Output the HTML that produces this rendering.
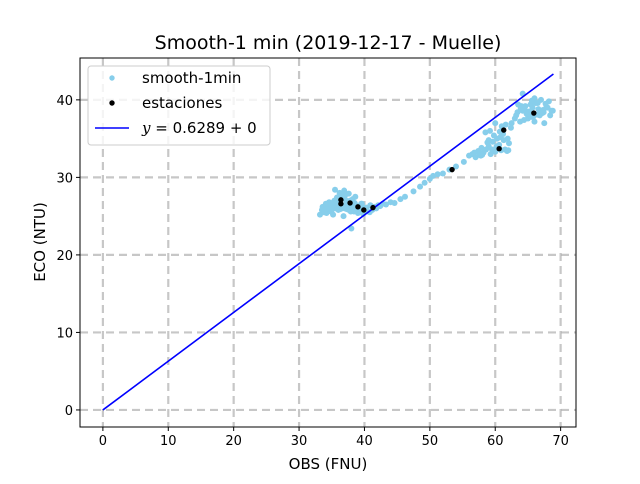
<!DOCTYPE html>
<html><head><meta charset="utf-8"><style>
body{margin:0;background:#fff;font-family:"DejaVu Sans","Liberation Sans",sans-serif}
</style></head><body>
<svg id="c" width="640" height="480" xmlns="http://www.w3.org/2000/svg" font-family="DejaVu Sans, Liberation Sans, sans-serif"></svg>
<script>
const xTicks=[0,10,20,30,40,50,60,70];
const yTicks=[0,10,20,30,40];
const smoothX=[33.2,33.5,33.8,34.0,34.2,34.5,34.7,35.0,35.2,35.4,35.6,35.8,36.0,36.2,36.4,36.6,36.8,37.0,37.2,37.4,37.6,37.8,38.0,38.2,38.4,38.6,38.8,39.0,39.2,39.4,39.6,39.8,40.0,40.3,40.6,40.9,41.2,41.5,41.8,42.1,42.4,42.8,43.3,44.0,44.6,45.5,46.2,47.5,48.5,49.2,50.0,50.5,51.2,52.0,53.0,54.0,55.2,56.0,56.5,57.0,57.4,57.8,58.2,58.6,59.0,59.3,59.6,60.0,60.3,60.6,60.9,61.2,61.5,61.8,62.1,62.4,58.5,59.2,60.0,60.8,61.6,62.0,57.6,59.0,60.2,61.0,62.5,63.0,63.4,63.8,64.2,64.6,65.0,65.4,65.8,66.2,66.6,67.0,67.4,67.8,68.2,68.6,64.0,65.0,66.0,67.0,68.0,63.5,64.5,65.5,66.5,67.5,64.2,66.8,36.5,35.5,37.0,34.6,38.6,36.0,39.5,35.0,37.8,40.8,36.8,34.0,38.0,
33.6,34.3,34.9,35.3,35.9,36.3,37.3,37.9,38.5,39.1,39.7,40.2,34.1,35.1,36.1,37.1,38.1,39.0,33.9,35.7,36.9,37.6,
56.8,57.9,58.8,59.5,60.5,61.3,61.9,58.0,59.8,60.7,
63.2,63.9,64.8,65.2,65.7,66.4,67.2,67.7,68.4,64.4,65.6,66.0,67.3,68.8];
const smoothY=[25.2,25.8,25.5,26.0,25.4,26.3,25.7,26.5,25.2,27.0,26.0,27.4,26.8,28.0,27.2,26.4,27.8,26.0,27.0,26.6,25.8,26.9,26.2,27.2,25.6,26.5,26.0,25.4,26.3,25.7,26.6,25.3,25.9,26.1,25.6,26.4,25.8,26.2,26.0,26.4,26.3,26.6,26.5,26.8,26.7,27.2,27.5,28.2,28.8,29.3,29.8,30.2,30.4,30.5,31.0,31.4,32.0,32.8,33.0,32.6,33.4,32.8,33.2,33.6,34.0,33.0,34.6,33.3,35.0,34.2,33.5,35.6,33.6,33.4,34.4,36.4,35.8,36.0,37.0,35.2,36.8,33.5,32.9,34.8,34.0,36.6,37.0,37.6,38.4,37.2,38.6,39.2,38.0,39.4,37.8,39.6,38.8,40.0,38.4,39.0,39.8,38.6,39.2,37.6,40.2,38.2,39.0,39.4,38.8,37.8,39.6,37.0,40.8,38.0,26.0,28.4,27.6,26.8,27.5,25.8,26.6,26.2,27.0,25.5,25.0,26.2,23.4,
26.2,25.9,25.6,26.7,26.1,25.9,25.9,25.6,26.7,26.0,26.0,25.8,26.6,25.9,27.5,26.3,26.4,25.9,25.6,26.3,28.3,27.9,
33.2,33.8,34.5,33.6,33.9,34.8,35.0,32.9,35.4,35.9,
38.0,38.9,38.2,38.5,39.0,38.1,38.3,39.5,38.0,37.4,39.9,37.2,38.7,38.6];
const stationX=[36.4,36.4,37.8,39.0,39.9,41.3,53.4,60.6,61.3,65.9];
const stationY=[27.1,26.6,26.7,26.2,25.8,26.1,31.0,33.7,36.1,38.3];
const slope=0.6289, lineX=[0,68.9];
const L=80,R=576,T=58,B=427;
const xmin=-3.5,xmax=72.35,ymin=-2.2,ymax=45.4;
const sx=v=>L+(v-xmin)/(xmax-xmin)*(R-L);
const sy=v=>B-(v-ymin)/(ymax-ymin)*(B-T);
const svg=document.getElementById('c');const NS='http://www.w3.org/2000/svg';
function mk(t,a,p){const e=document.createElementNS(NS,t);for(const k in a)e.setAttribute(k,a[k]);(p||svg).appendChild(e);return e;}
const title=mk('text',{x:328,y:49,'text-anchor':'middle','font-size':19});title.textContent='Smooth-1 min (2019-12-17 - Muelle)';


xTicks.forEach(v=>{const x=sx(v);
const g=mk('line',{x1:x,x2:x,y1:T,y2:B,stroke:'#b0b0b0','stroke-width':2.2,'stroke-dasharray':'8,5',opacity:0.7});


mk('line',{x1:x,x2:x,y1:B,y2:B+4,stroke:'#000'});
const t=mk('text',{x:x,y:B+18,'text-anchor':'middle','font-size':13});t.textContent=v;

});
yTicks.forEach(v=>{const y=sy(v);
const g=mk('line',{x1:L,x2:R,y1:y,y2:y,stroke:'#b0b0b0','stroke-width':2.2,'stroke-dasharray':'8,5',opacity:0.7});


mk('line',{x1:L-4,x2:L,y1:y,y2:y,stroke:'#000'});
const t=mk('text',{x:L-7,y:y+5,'text-anchor':'end','font-size':13});t.textContent=v;

});
smoothX.forEach((v,i)=>{const c=mk('circle',{cx:sx(v),cy:sy(smoothY[i]),r:3,fill:'#87ceeb'});

});
const ln=mk('line',{x1:sx(lineX[0]),y1:sy(lineX[0]*slope),x2:sx(lineX[1]),y2:sy(lineX[1]*slope),stroke:'#0000ff','stroke-width':1.6});


stationX.forEach((v,i)=>{const c=mk('circle',{cx:sx(v),cy:sy(stationY[i]),r:2.7,fill:'#000'});

});
const fr=mk('rect',{x:L,y:T,width:R-L,height:B-T,fill:'none',stroke:'#000','stroke-width':1});


const xl=mk('text',{x:328,y:469,'text-anchor':'middle','font-size':15});xl.textContent='OBS (FNU)';


const yl=mk('text',{x:45,y:242,'text-anchor':'middle','font-size':15,transform:'rotate(-90 45 242)'});yl.textContent='ECO (NTU)';


const lg=mk('g',{});


mk('rect',{x:88,y:66,width:182,height:79,rx:3,fill:'#fff','fill-opacity':0.8,stroke:'#ccc'},lg);
mk('circle',{cx:112,cy:78,r:2.7,fill:'#87ceeb'},lg);
mk('circle',{cx:112,cy:103,r:2.7,fill:'#000'},lg);
mk('line',{x1:95,x2:129,y1:128,y2:128,stroke:'#0000ff','stroke-width':1.6},lg);
[['smooth-1min',83],['estaciones',108]].forEach(([s,y])=>{const t=mk('text',{x:142,y:y,'font-size':15},lg);t.textContent=s;

});
const t3=mk('text',{x:142,y:133,'font-size':15},lg);t3.innerHTML='<tspan font-style="italic" font-family="DejaVu Serif, Liberation Serif, serif">y</tspan> = 0.6289 + 0';


</script>
</body></html>
